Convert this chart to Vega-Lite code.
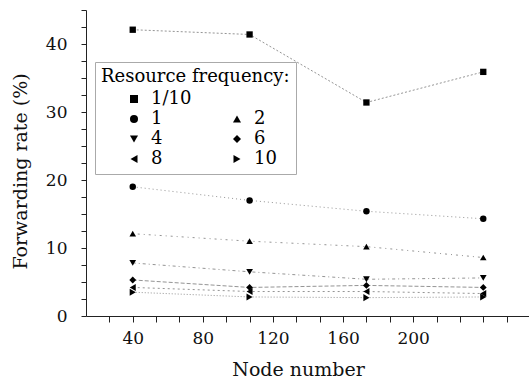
{
  "$schema": "https://vega.github.io/schema/vega-lite/v6.json",
  "width": 444,
  "height": 306,
  "autosize": {"type": "none"},
  "padding": {"left": 86, "top": 10, "right": 0, "bottom": 66},
  "config": {
    "view": {"stroke": null},
    "font": "DejaVu Serif",
    "axis": {"domainColor": "#222", "tickColor": "#222", "labelColor": "#111", "titleColor": "#111", "labelFont": "DejaVu Serif", "titleFont": "DejaVu Serif", "titleFontWeight": "normal", "grid": false},
    "legend": {"labelFont": "DejaVu Serif", "titleFont": "DejaVu Serif"}
  },
  "data": {
    "values": [
      {"freq": "1/10", "node": 40, "rate": 42.1},
      {"freq": "1/10", "node": 106.667, "rate": 41.4},
      {"freq": "1/10", "node": 173.333, "rate": 31.4},
      {"freq": "1/10", "node": 240, "rate": 35.9},
      {"freq": "1", "node": 40, "rate": 19.0},
      {"freq": "1", "node": 106.667, "rate": 17.0},
      {"freq": "1", "node": 173.333, "rate": 15.4},
      {"freq": "1", "node": 240, "rate": 14.3},
      {"freq": "2", "node": 40, "rate": 12.1},
      {"freq": "2", "node": 106.667, "rate": 11.0},
      {"freq": "2", "node": 173.333, "rate": 10.2},
      {"freq": "2", "node": 240, "rate": 8.6},
      {"freq": "4", "node": 40, "rate": 7.8},
      {"freq": "4", "node": 106.667, "rate": 6.5},
      {"freq": "4", "node": 173.333, "rate": 5.4},
      {"freq": "4", "node": 240, "rate": 5.6},
      {"freq": "6", "node": 40, "rate": 5.3},
      {"freq": "6", "node": 106.667, "rate": 4.2},
      {"freq": "6", "node": 173.333, "rate": 4.5},
      {"freq": "6", "node": 240, "rate": 4.2},
      {"freq": "8", "node": 40, "rate": 4.2},
      {"freq": "8", "node": 106.667, "rate": 3.6},
      {"freq": "8", "node": 173.333, "rate": 3.6},
      {"freq": "8", "node": 240, "rate": 3.3},
      {"freq": "10", "node": 40, "rate": 3.5},
      {"freq": "10", "node": 106.667, "rate": 2.8},
      {"freq": "10", "node": 173.333, "rate": 2.7},
      {"freq": "10", "node": 240, "rate": 2.8}
    ]
  },
  "encoding": {
    "x": {
      "field": "node", "type": "quantitative", "title": "Node number",
      "scale": {"domain": [13.333, 266.667], "nice": false, "zero": false},
      "axis": {
        "values": [26.667, 40, 53.333, 66.667, 80, 93.333, 106.667, 120, 133.333, 146.667, 160, 173.333, 186.667, 200, 213.333, 226.667, 240, 253.333],
        "labelExpr": "datum.value % 40 === 0 && datum.value <= 200 ? datum.label : ''",
        "labelFontSize": 17, "titleFontSize": 19, "tickSize": 6, "labelPadding": 8, "titlePadding": 14, "titleX": 212, "labelFlush": false, "labelOverlap": false
      }
    },
    "y": {
      "field": "rate", "type": "quantitative", "title": "Forwarding rate (%)",
      "scale": {"domain": [0, 45], "nice": false},
      "axis": {
        "values": [0, 2.5, 5, 7.5, 10, 12.5, 15, 17.5, 20, 22.5, 25, 27.5, 30, 32.5, 35, 37.5, 40, 42.5, 45],
        "labelExpr": "datum.value % 10 === 0 ? datum.label : ''",
        "labelFontSize": 17, "titleFontSize": 19, "tickSize": 5, "labelPadding": 14, "titleX": -56, "titleY": 161, "labelFlush": false, "labelOverlap": false
      }
    }
  },
  "layer": [
    {
      "mark": {"type": "line", "color": "#888", "strokeWidth": 0.9},
      "encoding": {
        "detail": {"field": "freq"},
        "strokeDash": {
          "field": "freq", "type": "nominal", "legend": null,
          "scale": {
            "domain": ["1/10", "1", "2", "4", "6", "8", "10"],
            "range": [[2, 2], [1, 3], [1, 4, 2, 4], [3, 3, 1, 3], [4, 2], [2, 3], [1, 2]]
          }
        }
      }
    },
    {
      "mark": {"type": "point", "filled": true, "color": "black", "opacity": 1},
      "encoding": {
        "size": {
          "field": "freq", "type": "nominal", "legend": null,
          "scale": {
            "domain": ["1/10", "1", "2", "4", "6", "8", "10"],
            "range": [40, 50, 70, 70, 55, 70, 70]
          }
        },
        "shape": {
          "field": "freq", "type": "nominal",
          "scale": {
            "domain": ["1/10", " ", "1", "2", "4", "6", "8", "10"],
            "range": ["square", "M0,0", "circle", "triangle-up", "triangle-down", "diamond", "triangle-left", "triangle-right"]
          },
          "legend": {
            "title": "Resource frequency:",
            "orient": "none", "legendX": 9, "legendY": 52, "direction": "horizontal",
            "columns": 2, "strokeColor": "#aaa", "fillColor": "white", "padding": 6,
            "titleFontSize": 18, "titleFontWeight": "normal", "titleColor": "black", "titleLimit": 400,
            "labelFontSize": 18, "labelColor": "black",
            "symbolSize": 65, "symbolOffset": 24, "columnPadding": 12, "rowPadding": 2,
            "symbolFillColor": "black", "symbolStrokeWidth": 0, "labelOffset": 8, "titlePadding": 4
          }
        }
      }
    }
  ]
}
